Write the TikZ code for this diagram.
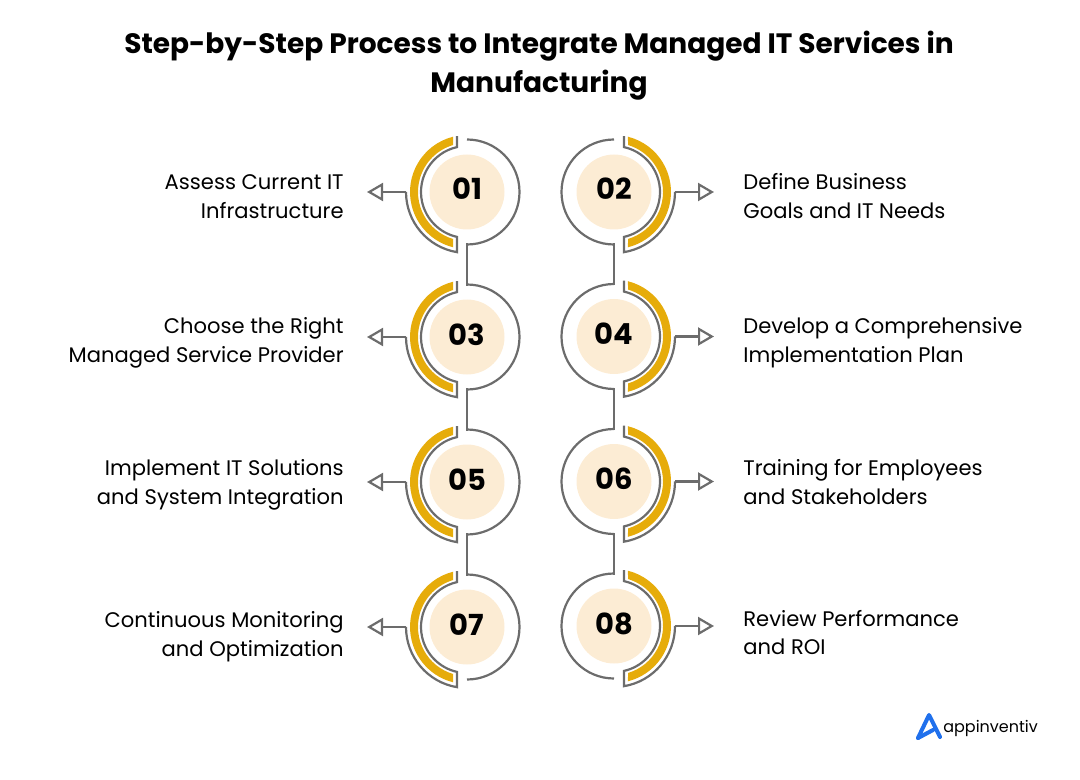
\documentclass[tikz,border=0pt]{standalone}
\usepackage{fontspec}
\setmainfont{Poppins}
\usepackage{tikz}
\usetikzlibrary{arrows.meta}
\pgfdeclarelayer{edgelayer}
\pgfdeclarelayer{nodelayer}
\pgfsetlayers{edgelayer,nodelayer,main}
\definecolor{gold}{RGB}{230,172,10}
\definecolor{cream}{RGB}{252,236,212}
\definecolor{wire}{RGB}{108,108,108}
\definecolor{logoblue}{RGB}{32,112,236}
\tikzstyle{disc}=[circle,fill=cream,draw=none,minimum size=1.5cm,inner sep=0pt,text height=.5cm,text depth=.18cm,font=\fontsize{16.5}{20}\selectfont\bfseries]
\tikzstyle{leftlabel}=[anchor=east,align=right,inner sep=0pt,font=\fontsize{12}{16.4}\selectfont]
\tikzstyle{rightlabel}=[anchor=west,align=left,inner sep=0pt,font=\fontsize{12}{16.4}\selectfont]
\tikzstyle{titlelabel}=[align=center,inner sep=0pt,font=\fontsize{15.95}{22}\selectfont\bfseries]
\tikzstyle{ring}=[draw=wire,line width=1.25pt]
\tikzstyle{link}=[draw=wire,line width=1.25pt,line cap=rect]
\tikzstyle{band}=[fill=gold,draw=none]
\tikzstyle{outarrow}=[-{Triangle[open,length=.32cm,width=.36cm]},draw=wire,line width=1.25pt]
\tikzstyle{logomark}=[draw=logoblue,line width=2.3pt,line join=round,line cap=round]
\begin{document}
\begin{tikzpicture}
	\useasboundingbox (0, 0) rectangle (21.6, 15.58);
	\begin{pgfonlayer}{nodelayer}
		\node [style=titlelabel] (title) at (10.78, 14.27) {Step-by-Step Process to Integrate Managed IT Services in\\Manufacturing};
		\node [style=disc] (1) at (9.34, 11.74) {01};
		\node [style=disc] (2) at (12.28, 11.74) {02};
		\node [style=disc] (3) at (9.34, 8.84) {03};
		\node [style=disc] (4) at (12.28, 8.85) {04};
		\node [style=disc] (5) at (9.34, 5.94) {05};
		\node [style=disc] (6) at (12.28, 5.95) {06};
		\node [style=disc] (7) at (9.34, 3.04) {07};
		\node [style=disc] (8) at (12.28, 3.06) {08};
		\node [style=leftlabel] (l1) at (6.88, 11.64) {Assess Current IT\\Infrastructure};
		\node [style=rightlabel] (l2) at (14.86, 11.66) {Define Business\\Goals and IT Needs};
		\node [style=leftlabel] (l3) at (6.88, 8.72) {Choose the Right\\Managed Service Provider};
		\node [style=rightlabel] (l4) at (14.86, 8.72) {Develop a Comprehensive\\Implementation Plan};
		\node [style=leftlabel] (l5) at (6.88, 5.89) {Implement IT Solutions\\and System Integration};
		\node [style=rightlabel] (l6) at (14.86, 5.94) {Training for Employees\\and Stakeholders};
		\node [style=leftlabel] (l7) at (6.88, 2.84) {Continuous Monitoring\\and Optimization};
		\node [style=rightlabel] (l8) at (14.86, 2.93) {Review Performance\\and ROI};
		\node [inner sep=0pt,anchor=west,font=\fontsize{9.1}{11}\selectfont\mdseries] (logo) at (18.86, 1.02) {appinventiv};
		\coordinate (c1) at ([yshift=1.05cm]1.center);
		\coordinate (b1) at ([yshift=-1.05cm]1.center);
		\coordinate (c2) at ([yshift=1.05cm]2.center);
		\coordinate (b2) at ([yshift=-1.05cm]2.center);
		\coordinate (c3) at ([yshift=1.05cm]3.center);
		\coordinate (b3) at ([yshift=-1.05cm]3.center);
		\coordinate (c4) at ([yshift=1.05cm]4.center);
		\coordinate (b4) at ([yshift=-1.05cm]4.center);
		\coordinate (c5) at ([yshift=1.05cm]5.center);
		\coordinate (b5) at ([yshift=-1.05cm]5.center);
		\coordinate (c6) at ([yshift=1.05cm]6.center);
		\coordinate (b6) at ([yshift=-1.05cm]6.center);
		\coordinate (c7) at ([yshift=1.05cm]7.center);
		\coordinate (b7) at ([yshift=-1.05cm]7.center);
		\coordinate (c8) at ([yshift=1.05cm]8.center);
		\coordinate (b8) at ([yshift=-1.05cm]8.center);
	\end{pgfonlayer}
	\begin{pgfonlayer}{edgelayer}
		% gold bands
		\draw [style=band] ([shift={(104.2:1.14)}]1.center) arc [start angle=104.2, end angle=255.8, radius=1.14] -- ([shift={(253.4:.98)}]1.center) arc [start angle=253.4, end angle=106.6, radius=.98] -- cycle;
		\draw [style=band] ([shift={(75.8:1.14)}]2.center) arc [start angle=75.8, end angle=-75.8, radius=1.14] -- ([shift={(-73.4:.98)}]2.center) arc [start angle=-73.4, end angle=73.4, radius=.98] -- cycle;
		\draw [style=band] ([shift={(104.2:1.14)}]3.center) arc [start angle=104.2, end angle=255.8, radius=1.14] -- ([shift={(253.4:.98)}]3.center) arc [start angle=253.4, end angle=106.6, radius=.98] -- cycle;
		\draw [style=band] ([shift={(75.8:1.14)}]4.center) arc [start angle=75.8, end angle=-75.8, radius=1.14] -- ([shift={(-73.4:.98)}]4.center) arc [start angle=-73.4, end angle=73.4, radius=.98] -- cycle;
		\draw [style=band] ([shift={(104.2:1.14)}]5.center) arc [start angle=104.2, end angle=255.8, radius=1.14] -- ([shift={(253.4:.98)}]5.center) arc [start angle=253.4, end angle=106.6, radius=.98] -- cycle;
		\draw [style=band] ([shift={(75.8:1.14)}]6.center) arc [start angle=75.8, end angle=-75.8, radius=1.14] -- ([shift={(-73.4:.98)}]6.center) arc [start angle=-73.4, end angle=73.4, radius=.98] -- cycle;
		\draw [style=band] ([shift={(104.2:1.14)}]7.center) arc [start angle=104.2, end angle=255.8, radius=1.14] -- ([shift={(253.4:.98)}]7.center) arc [start angle=253.4, end angle=106.6, radius=.98] -- cycle;
		\draw [style=band] ([shift={(75.8:1.14)}]8.center) arc [start angle=75.8, end angle=-75.8, radius=1.14] -- ([shift={(-73.4:.98)}]8.center) arc [start angle=-73.4, end angle=73.4, radius=.98] -- cycle;
		% open half rings
		\draw [style=ring] (c1) arc [start angle=90, end angle=-90, radius=1.05];
		\draw [style=ring] (c2) arc [start angle=90, end angle=270, radius=1.05];
		\draw [style=ring] (c3) arc [start angle=90, end angle=-90, radius=1.05];
		\draw [style=ring] (c4) arc [start angle=90, end angle=270, radius=1.05];
		\draw [style=ring] (c5) arc [start angle=90, end angle=-90, radius=1.05];
		\draw [style=ring] (c6) arc [start angle=90, end angle=270, radius=1.05];
		\draw [style=ring] (c7) arc [start angle=90, end angle=-90, radius=1.05];
		\draw [style=ring] (c8) arc [start angle=90, end angle=270, radius=1.05];
		% double rings with ticks
		\draw [style=ring] ([shift={(102.6:.92)}]1.center) ++(0, .22) -- ++(0, -.22) arc [start angle=102.6, end angle=257.4, radius=.92] -- ([shift={(260.6:1.22)}]1.center) arc [start angle=260.6, end angle=180, radius=1.22];
		\draw [style=ring] ([shift={(77.4:.92)}]2.center) ++(0, .22) -- ++(0, -.22) arc [start angle=77.4, end angle=-77.4, radius=.92] -- ([shift={(-80.6:1.22)}]2.center) arc [start angle=-80.6, end angle=0, radius=1.22];
		\draw [style=ring] ([shift={(102.6:.92)}]3.center) ++(0, .22) -- ++(0, -.22) arc [start angle=102.6, end angle=257.4, radius=.92] -- ([shift={(260.6:1.22)}]3.center) arc [start angle=260.6, end angle=180, radius=1.22];
		\draw [style=ring] ([shift={(77.4:.92)}]4.center) ++(0, .22) -- ++(0, -.22) arc [start angle=77.4, end angle=-77.4, radius=.92] -- ([shift={(-80.6:1.22)}]4.center) arc [start angle=-80.6, end angle=0, radius=1.22];
		\draw [style=ring] ([shift={(102.6:.92)}]5.center) ++(0, .22) -- ++(0, -.22) arc [start angle=102.6, end angle=257.4, radius=.92] -- ([shift={(260.6:1.22)}]5.center) arc [start angle=260.6, end angle=180, radius=1.22];
		\draw [style=ring] ([shift={(77.4:.92)}]6.center) ++(0, .22) -- ++(0, -.22) arc [start angle=77.4, end angle=-77.4, radius=.92] -- ([shift={(-80.6:1.22)}]6.center) arc [start angle=-80.6, end angle=0, radius=1.22];
		\draw [style=ring] ([shift={(102.6:.92)}]7.center) ++(0, .22) -- ++(0, -.22) arc [start angle=102.6, end angle=257.4, radius=.92] -- ([shift={(260.6:1.22)}]7.center) arc [start angle=260.6, end angle=180, radius=1.22];
		\draw [style=ring] ([shift={(77.4:.92)}]8.center) ++(0, .22) -- ++(0, -.22) arc [start angle=77.4, end angle=-77.4, radius=.92] -- ([shift={(-80.6:1.22)}]8.center) arc [start angle=-80.6, end angle=0, radius=1.22];
		% links
		\draw [style=link] (b1) -- (c3);
		\draw [style=link] (b3) -- (c5);
		\draw [style=link] (b5) -- (c7);
		\draw [style=link] (b2) -- (c4);
		\draw [style=link] (b4) -- (c6);
		\draw [style=link] (b6) -- (c8);
		% arrows
		\draw [style=outarrow] ([xshift=-1.22cm]1.center) -- ([xshift=-2cm]1.center);
		\draw [style=outarrow] ([xshift=1.22cm]2.center) -- ([xshift=2cm]2.center);
		\draw [style=outarrow] ([xshift=-1.22cm]3.center) -- ([xshift=-2cm]3.center);
		\draw [style=outarrow] ([xshift=1.22cm]4.center) -- ([xshift=2cm]4.center);
		\draw [style=outarrow] ([xshift=-1.22cm]5.center) -- ([xshift=-2cm]5.center);
		\draw [style=outarrow] ([xshift=1.22cm]6.center) -- ([xshift=2cm]6.center);
		\draw [style=outarrow] ([xshift=-1.22cm]7.center) -- ([xshift=-2cm]7.center);
		\draw [style=outarrow] ([xshift=1.22cm]8.center) -- ([xshift=2cm]8.center);
		% logo mark
		\draw [style=logomark] (18.36, .82) -- (18.58, 1.28) -- (18.8, .84);
		\draw [style=logomark] (18.36, .82) -- (18.66, .98);
	\end{pgfonlayer}
\end{tikzpicture}
\end{document}
